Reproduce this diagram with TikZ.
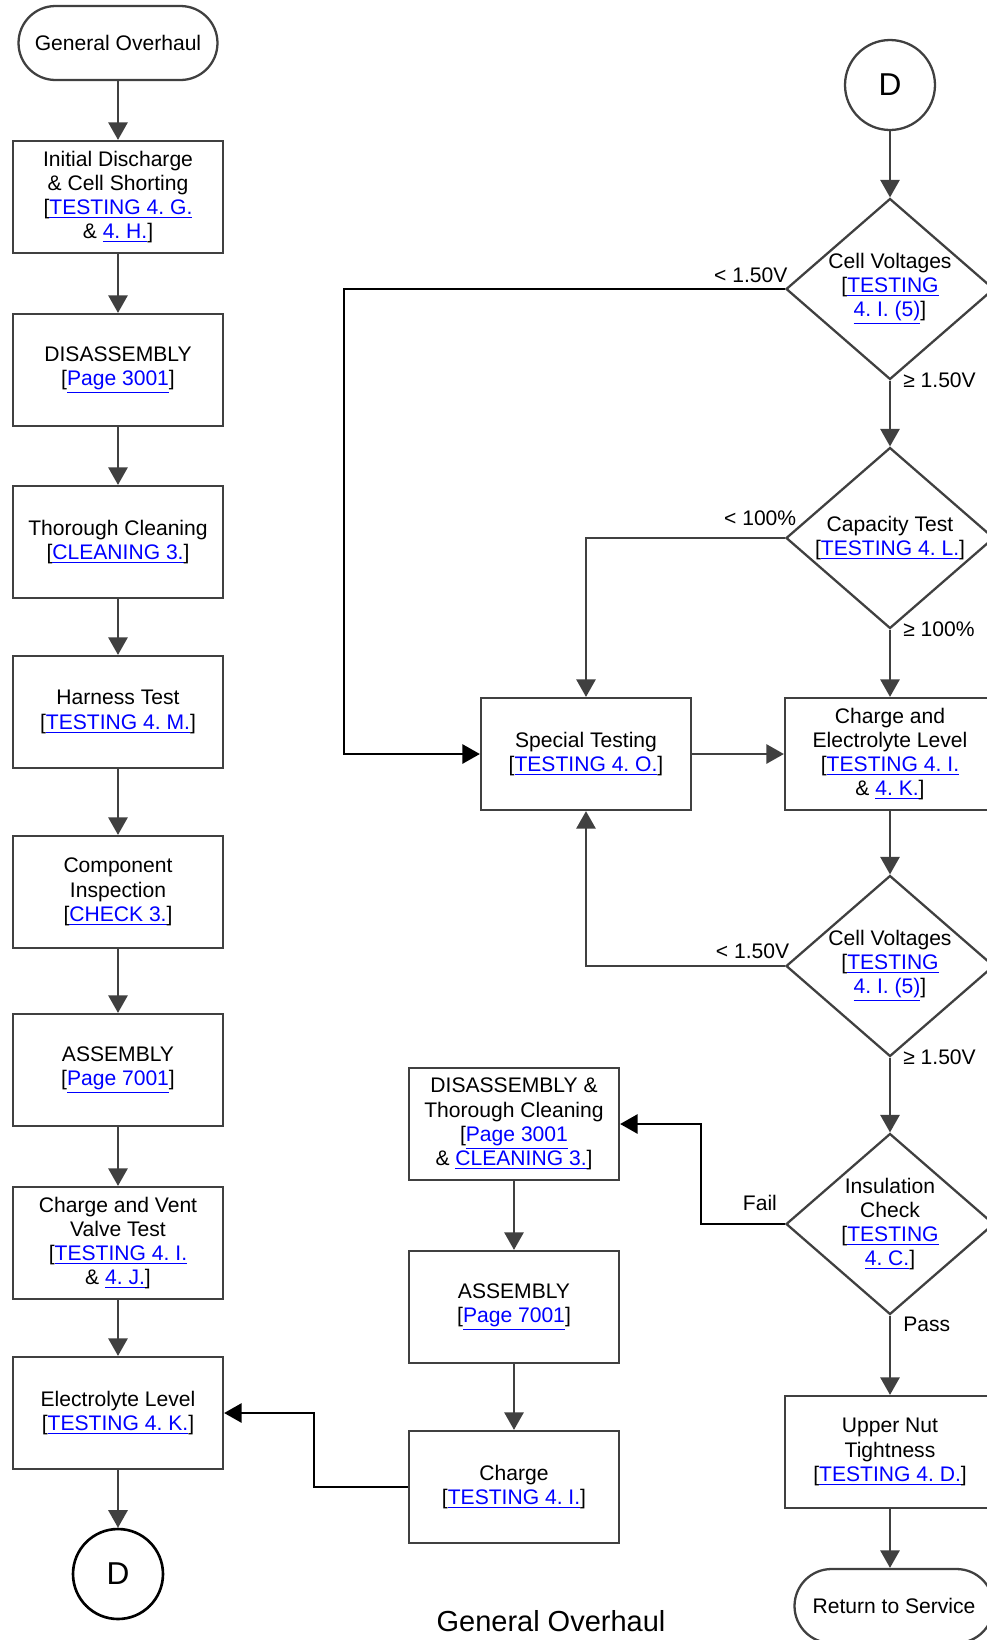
\documentclass[tikz,border=0pt]{standalone}
\usepackage{fontspec}
\setmainfont{Liberation Sans}
\usetikzlibrary{arrows.meta,shapes.geometric}
\definecolor{linegray}{HTML}{404040}
\definecolor{linkblue}{HTML}{0000FF}
\newcommand{\lnk}[1]{\textcolor{linkblue}{\underline{#1}}}
\frenchspacing
\tikzset{
  ->/.style={draw=linegray,line width=1.1pt,-{Triangle[length=10pt,width=11pt]}},
  box/.style={draw=linegray,line width=1.3pt,minimum width=4.2cm,minimum height=2.24cm,align=center},
  term/.style={draw=linegray,line width=1.3pt,rounded corners=0.74cm,minimum width=3.98cm,minimum height=1.48cm},
  decision/.style={diamond,draw=linegray,line width=1.3pt,minimum width=4.16cm,minimum height=3.62cm,inner sep=0pt,aspect=1.15,align=center},
  conn/.style={circle,draw=linegray,line width=1.3pt,minimum size=1.8cm,inner sep=0pt,font=\fontsize{18}{20}\selectfont},
  lbl/.style={inner sep=1pt}
}
\tikzstyle{every node}=[color=black,font=\fontsize{12}{13.8}\selectfont]

\begin{document}
\begin{tikzpicture}[x=0.02cm,y=-0.02cm]
    \useasboundingbox (0,0) rectangle (987,1640);
    \clip (0,0) rectangle (987,1640);
    \fill[white] (0,0) rectangle (987,1640);
    % left column
    \node[term] (go) at (118,43) {General Overhaul};
    \node[box] (init) at (118,197) {Initial Discharge\\ \& Cell Shorting\\ {[}\lnk{TESTING 4. G.}\\ \& \lnk{4. H.}]};
    \node[box] (dis) at (118,370) {DISASSEMBLY\\ {[}\lnk{Page 3001}]};
    \node[box] (cln) at (118,542) {Thorough Cleaning\\ {[}\lnk{CLEANING 3.}]};
    \node[box] (har) at (118,712) {Harness Test\\ {[}\lnk{TESTING 4. M.}]};
    \node[box] (comp) at (118,892) {Component\\ Inspection\\ {[}\lnk{CHECK 3.}]};
    \node[box] (asm) at (118,1070) {ASSEMBLY\\ {[}\lnk{Page 7001}]};
    \node[box] (cvv) at (118,1243) {Charge and Vent\\ Valve Test\\ {[}\lnk{TESTING 4. I.}\\ \& \lnk{4. J.}]};
    \node[box] (elec) at (118,1413) {Electrolyte Level\\ {[}\lnk{TESTING 4. K.}]};
    \node[conn,draw=black,line width=1.5pt] (dL) at (118,1574) {D};
    % middle column
    \node[box] (spec) at (586,754) {Special Testing\\ {[}\lnk{TESTING 4. O.}]};
    \node[box] (dis2) at (514,1124) {DISASSEMBLY \&\\ Thorough Cleaning\\ {[}\lnk{Page 3001}\\ \& \lnk{CLEANING 3.}]};
    \node[box] (asm2) at (514,1307) {ASSEMBLY\\ {[}\lnk{Page 7001}]};
    \node[box] (chg) at (514,1487) {Charge\\ {[}\lnk{TESTING 4. I.}]};
    % right column
    \node[conn] (dR) at (890,85) {D};
    \node[decision] (cv1) at (890,289) {Cell Voltages\\ {[}\lnk{TESTING}\\ \lnk{4. I. (5)}]};
    \node[decision] (cap) at (890,538) {Capacity Test\\ {[}\lnk{TESTING 4. L.}]};
    \node[box] (chel) at (890,754) {Charge and\\ Electrolyte Level\\ {[}\lnk{TESTING 4. I.}\\ \& \lnk{4. K.}]};
    \node[decision] (cv2) at (890,966) {Cell Voltages\\ {[}\lnk{TESTING}\\ \lnk{4. I. (5)}]};
    \node[decision] (ins) at (890,1224) {Insulation\\ Check\\ {[}\lnk{TESTING}\\ \lnk{4. C.}]};
    \node[box] (unt) at (890,1452) {Upper Nut\\ Tightness\\ {[}\lnk{TESTING 4. D.}]};
    \node[term] (ret) at (894,1606) {Return to Service};
    \node (title) at (551,1621) {\fontsize{16.5}{19}\selectfont General Overhaul};

    \draw [->] (go) -- (init);
    \draw [->] (init) -- (dis);
    \draw [->] (dis) -- (cln);
    \draw [->] (cln) -- (har);
    \draw [->] (har) -- (comp);
    \draw [->] (comp) -- (asm);
    \draw [->] (asm) -- (cvv);
    \draw [->] (cvv) -- (elec);
    \draw [->] (elec) -- (dL);

    \draw [->] (dR) -- (cv1);
    \draw [->] (cv1.south) -- node[lbl,pos=0,right=6pt] {≥ 1.50V} (cap.north);
    \draw [->,draw=black] (cv1.west) -- node[lbl,pos=0,above left,xshift=3pt,yshift=2pt] {< 1.50V} ++(-441,0) |- (spec.west);
    \draw [->] (cap.west) -- node[lbl,pos=0,above left,xshift=8pt,yshift=5.5pt] {< 100\%} (cap.west -| spec.north) -- (spec.north);
    \draw [->] (cap.south) -- node[lbl,pos=0,right=6pt] {≥ 100\%} (chel.north);
    \draw [->] (spec) -- (chel);
    \draw [->] (chel) -- (cv2);
    \draw [->] (cv2.west) -- node[lbl,pos=0,above left,xshift=4pt,yshift=2.5pt] {< 1.50V} (cv2.west -| spec.south) -- (spec.south);
    \draw [->] (cv2.south) -- node[lbl,pos=0,right=6pt] {≥ 1.50V} (ins.north);
    \draw [->,draw=black] (ins.west) -- node[lbl,pos=0,above left,xshift=-3pt,yshift=6pt] {Fail} ++(-84,0) |- (dis2.east);
    \draw [->] (ins.south) -- node[lbl,pos=0,right=6pt,yshift=-5pt] {Pass} (unt.north);
    \draw [->] (unt.south) -- (unt.south |- ret.north);

    \draw [->] (dis2) -- (asm2);
    \draw [->] (asm2) -- (chg);
    \draw [->,draw=black] (chg.west) -- ++(-94,0) |- (elec.east);
\end{tikzpicture}
\end{document}
